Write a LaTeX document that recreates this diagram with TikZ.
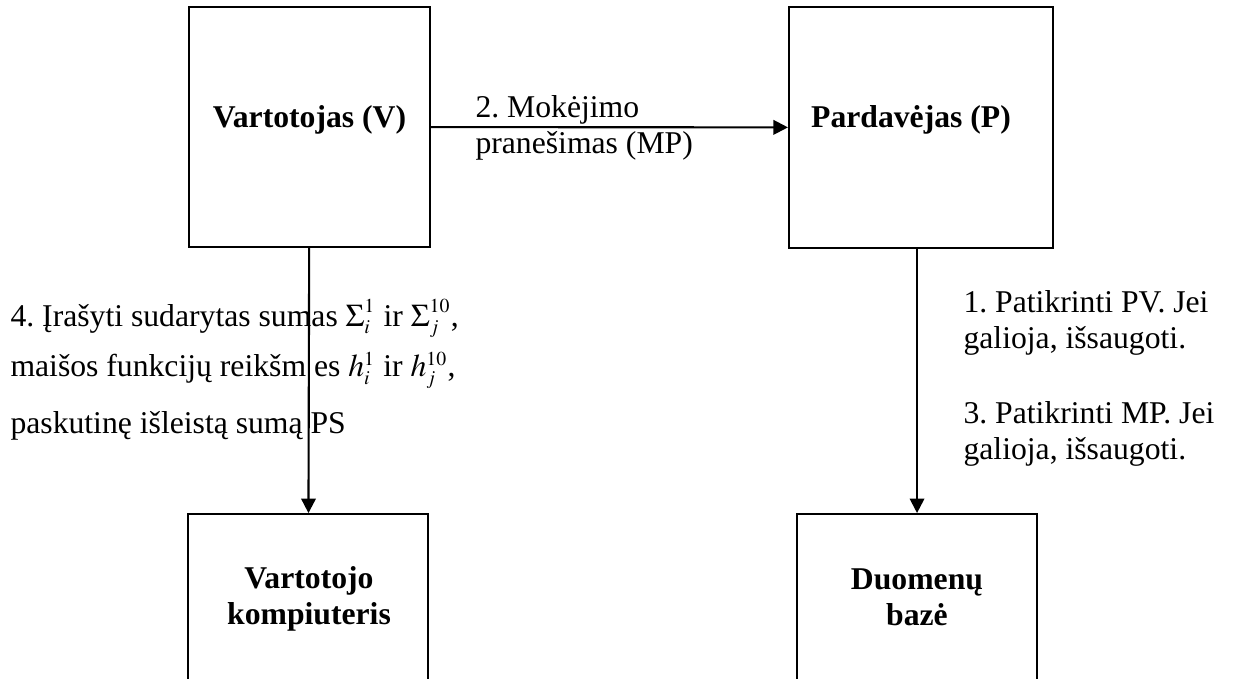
\documentclass[tikz,border=0pt]{standalone}
\usepackage{mathptmx}
\usepackage{fontspec}
\setmainfont{Liberation Serif}
\DeclareMathSizes{12}{12}{7.5}{5}
\frenchspacing
\usetikzlibrary{arrows.meta, positioning}
\tikzstyle{box} = [rectangle, draw, line width=0.8pt, inner sep=0pt]
\tikzstyle{title} = [font=\fontsize{12}{13.8}\selectfont\bfseries, align=center, inner sep=0pt, anchor=base]
\tikzstyle{note} = [align=left, inner sep=0pt, anchor=base west]
\tikzstyle{arrow} = [line width=0.8pt, -{Triangle[length=5.5pt, width=5.5pt]}]

\begin{document}
\begin{tikzpicture}[x=0.3788pt, y=-0.3788pt, font=\fontsize{12}{13.8}\selectfont]
    \clip (0,0) rectangle (1235,679);

    \node (v) [box, minimum width=91.3pt, minimum height=90.9pt] at (309.5,127) {};
    \node (p) [box, minimum width=100pt, minimum height=91.3pt] at (921,127.5) {};
    \node (vk) [box, minimum width=90.9pt, minimum height=78.8pt, below=100.4pt of v, xshift=-0.5pt] {};
    \node (db) [box, minimum width=90.9pt, minimum height=78.8pt, below=100pt of p, xshift=-1.5pt] {};

    \node (vt) [title] at (309.5,128) {Vartotojas (V)};
    \node (pt) [title] at (911,128) {Pardavėjas (P)};
    \node (vkt) [title] at (309,625) {Vartotojo\\kompiuteris};
    \node (dbt) [title] at (917,626) {Duomenų\\bazė};

    \draw[arrow] (v) -- (p);
    \draw[arrow] (v) -- (vk);
    \draw[arrow] (p.south -| db.north) -- (db);

    \node (msg) [note] at (475,154) {2. Mokėjimo\\pranešimas (MP)};
    \node (chk1) [note] at (963,349) {1. Patikrinti PV. Jei\\galioja, išsaugoti.};
    \node (chk3) [note] at (963,460) {3. Patikrinti MP. Jei\\galioja, išsaugoti.};
    \node (save) [note] at (10,434) {4. Įrašyti sudarytas sumas $\mbox{\large$\Sigma$}_i^1$ ir $\mbox{\large$\Sigma$}_j^{10}$,\\[4.4pt]
        maišos funkcijų reikšm es $h_i^1$ ir $h_j^{10}$,\\[7.8pt]
        paskutinę išleistą sumą PS};
\end{tikzpicture}
\end{document}
